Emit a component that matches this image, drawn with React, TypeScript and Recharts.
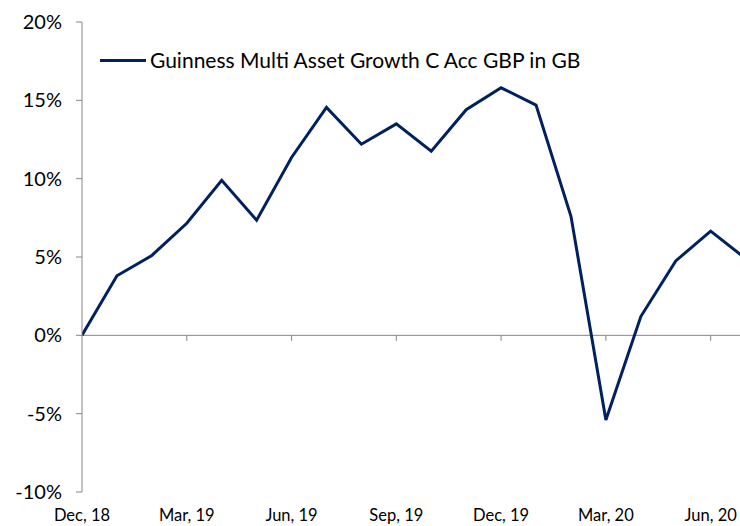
import { Line, LineChart, ReferenceLine, XAxis, YAxis } from "recharts";

const months = [
    "Dec, 18", "Jan, 19", "Feb, 19", "Mar, 19", "Apr, 19", "May, 19", "Jun, 19",
    "Jul, 19", "Aug, 19", "Sep, 19", "Oct, 19", "Nov, 19", "Dec, 19",
    "Jan, 20", "Feb, 20", "Mar, 20", "Apr, 20", "May, 20", "Jun, 20", "Jul, 20",
];
const growth = [
    0, 3.8, 5.1, 7.15, 9.9, 7.35, 11.35, 14.55, 12.2, 13.5, 11.75, 14.4, 15.8,
    14.7, 7.6, -5.4, 1.2, 4.75, 6.65, 4.9,
];
const xTicks = [0, 3, 6, 9, 12, 15, 18];
const yTicks = [-10, -5, 0, 5, 10, 15, 20];
const seriesName = "Guinness Multi Asset Growth C Acc GBP in GB";

const data = months.map((m, i) => ({ i, month: m, value: growth[i] }));

const font = "Lato, 'Open Sans', sans-serif";
const navy = "#002060";
const grey = "#868686";

const App = () => {
    return (
        <div style={{ position: "absolute", left: 0, top: 0, width: 740, height: 526, background: "#fff" }}>
            <LineChart width={740} height={526} data={data} margin={{ top: 22, right: 0, left: 0, bottom: 0 }}>
                <XAxis
                    dataKey="i"
                    type="number"
                    domain={[0, 18.84]}
                    allowDataOverflow
                    ticks={xTicks}
                    tickFormatter={(v) => months[v]}
                    axisLine={false}
                    tickLine={false}
                    tickSize={0}
                    tickMargin={17}
                    height={34}
                    interval={0}
                    tick={{ fontSize: 16.5, fill: "#000", fontFamily: font }}
                />
                <YAxis
                    domain={[-10, 20]}
                    ticks={yTicks}
                    tickFormatter={(v) => `${v}%`}
                    width={82}
                    axisLine={{ stroke: grey }}
                    tickLine={{ stroke: grey }}
                    tickSize={6}
                    tickMargin={14}
                    interval={0}
                    tick={{ fontSize: 20, fill: "#000", fontFamily: font }}
                />
                <ReferenceLine y={0} stroke={grey} />
                {xTicks.slice(1).map((t) => (
                    <ReferenceLine
                        key={`tk-${t}`}
                        segment={[{ x: t, y: 0 }, { x: t, y: -0.35 }]}
                        stroke={grey}
                    />
                ))}
                <Line
                    type="linear"
                    dataKey="value"
                    stroke={navy}
                    strokeWidth={3}
                    dot={false}
                    activeDot={false}
                    isAnimationActive={false}
                />
            </LineChart>
            <div
                style={{
                    position: "absolute",
                    left: 100,
                    top: 47,
                    display: "flex",
                    alignItems: "center",
                    fontFamily: font,
                    fontSize: 21,
                    lineHeight: "26px",
                    color: "#000",
                }}
            >
                <span style={{ display: "inline-block", width: 46, height: 3, background: navy }} />
                <span style={{ marginLeft: 4 }}>{seriesName}</span>
            </div>
        </div>
    );
};

export default App;
